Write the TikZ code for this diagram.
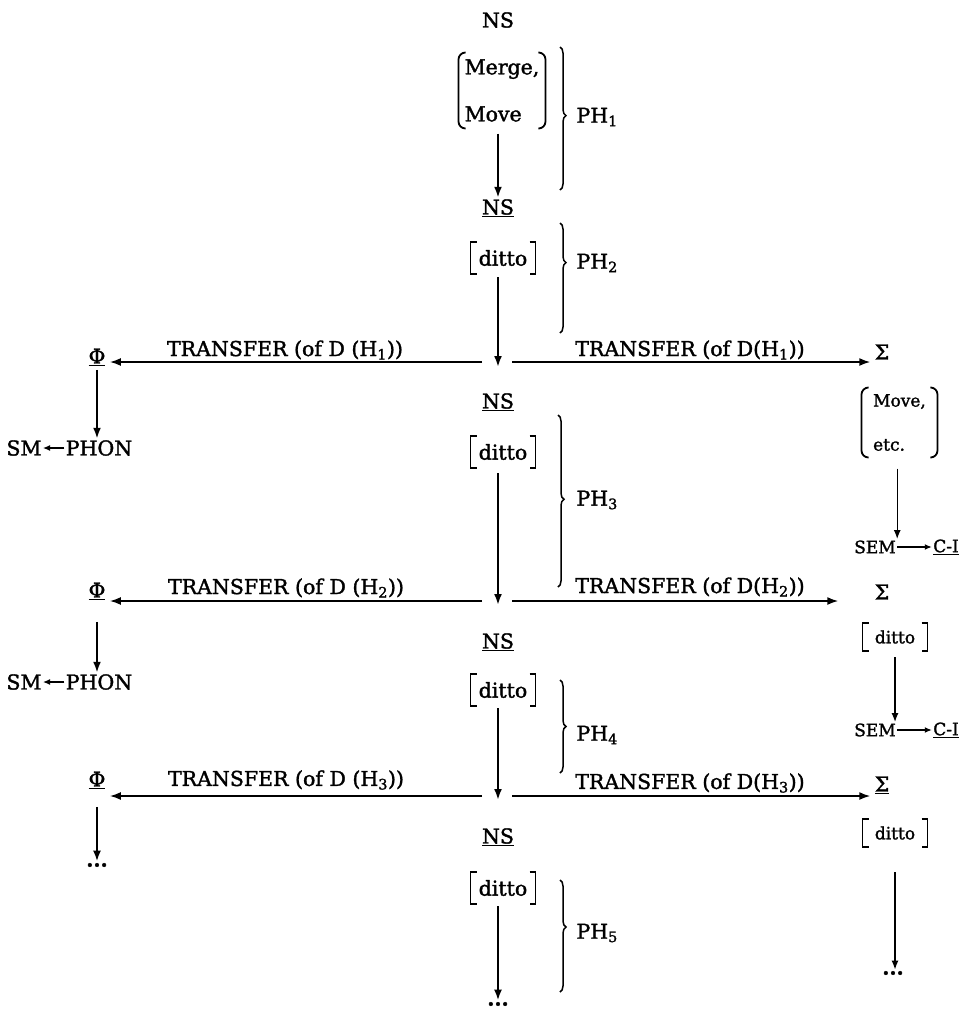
\documentclass[tikz,border=0pt]{standalone}
\usepackage{fontspec}
\setmainfont{DejaVu Serif}[FakeBold=1.6]
\usepackage{tikz}
\usetikzlibrary{arrows.meta,decorations.pathreplacing}
\tikzset{every picture/.style={line width=1pt}}
\tikzset{
  lab/.style={inner sep=1pt, font=\fontsize{20.5}{24}\selectfont},
  sml/.style={inner sep=1pt, font=\fontsize{17}{20}\selectfont},
  sym/.style={lab, inner sep=4pt},
  varr/.style={line width=2.2pt, -{Latex[length=11pt,width=8pt]}},
  harr/.style={line width=1.6pt, -{Latex[length=11pt,width=8pt]}},
  rarr/.style={line width=1.4pt, -{Latex[length=9pt,width=7pt]}},
  tarr/.style={line width=1.2pt, -{Latex[length=7pt,width=6pt]}},
  brc/.style={decorate, decoration={brace, amplitude=6pt, aspect=#1}, line width=1.5pt},
  brc/.default=0.5,
  brk/.style={line width=1.8pt},
}
% brackets round a node
\newcommand{\brackets}[2][sharp corners]{%
  \draw[brk, #1] ([xshift=6pt]#2.north west) -- (#2.north west) -- (#2.south west) -- ([xshift=6pt]#2.south west);
  \draw[brk, #1] ([xshift=-6pt]#2.north east) -- (#2.north east) -- (#2.south east) -- ([xshift=-6pt]#2.south east);}

\begin{document}
\begin{tikzpicture}[x=1pt,y=1pt,yscale=-1,xscale=1]
\useasboundingbox (0,0) rectangle (966,1013);

% junctions on the three TRANSFER rows
\coordinate (j1) at (498,367);
\coordinate (jl1) at (482,362);
\coordinate (jr1) at (512,362);
\coordinate (j2) at (498,605);
\coordinate (jl2) at (482,601);
\coordinate (jr2) at (512,601);
\coordinate (j3) at (498,800);
\coordinate (jl3) at (482,796);
\coordinate (jr3) at (512,796);

%% narrow syntax column
\node[lab] (ns0) at (498,20) {NS};
\node[lab, align=left, minimum width=86pt, minimum height=75pt] (mm) at (502,90.5) {Merge,\\[23pt]Move};
\brackets[rounded corners=7pt]{mm}
\node[lab] (ns1) at (498,208) {\underline{NS}};
\draw[varr, shorten <=5pt] (mm.south -| ns1) -- (ns1);
\node[lab, minimum width=64pt, minimum height=31pt] (d1) at (503,258) {ditto};
\brackets{d1}
\draw[varr, shorten <=3pt] (d1.south -| j1) -- (j1);

\node[lab] (ns2) at (498,402) {\underline{NS}};
\node[lab, minimum width=64pt, minimum height=31pt] (d2) at (503,452) {ditto};
\brackets{d2}
\draw[varr, shorten <=5pt] (d2.south -| j2) -- (j2);

\node[lab] (ns3) at (498,642) {\underline{NS}};
\node[lab, minimum width=64pt, minimum height=31pt] (d3) at (503,690) {ditto};
\brackets{d3}
\draw[varr, shorten <=2pt] (d3.south -| j3) -- (j3);

\node[lab] (ns4) at (498,837) {\underline{NS}};
\node[lab, minimum width=64pt, minimum height=31pt] (d4) at (503,888) {ditto};
\brackets{d4}
\node[lab] (dotsc) at (498,1004) {\textbf{...}};
\draw[varr, shorten <=2pt] (d4.south -| dotsc) -- (dotsc);

%% phases
\draw[brc=0.48] (560,47) -- (560,190);
\node[lab, anchor=west] (ph1) at (575,117) {PH\textsubscript{1}};
\draw[brc=0.36] (560,223) -- (560,333);
\node[lab, anchor=west] (ph2) at (575,263) {PH\textsubscript{2}};
\draw[brc=0.49] (558,415) -- (558,587);
\node[lab, anchor=west] (ph3) at (575,500) {PH\textsubscript{3}};
\draw[brc=0.5] (560,680) -- (560,773);
\node[lab, anchor=west] (ph4) at (575,735) {PH\textsubscript{4}};
\draw[brc=0.42] (560,880) -- (560,992);
\node[lab, anchor=west] (ph5) at (575,933) {PH\textsubscript{5}};

%% TRANSFER rows
\node[sym] (phi1) at (97,357) {\underline{Φ}};
\node[sym] (phi2) at (97,591) {\underline{Φ}};
\node[sym] (phi3) at (97,780) {\underline{Φ}};
\node[sym] (sig1) at (882,352) {Σ};
\node[sym] (sig2) at (882,592) {Σ};
\node[sym] (sig3) at (882,785) {\underline{Σ}};

\node[lab] (t1l) at (285,350) {TRANSFER (of D (H\textsubscript{1}))};
\node[lab] (t1r) at (690,350) {TRANSFER (of D(H\textsubscript{1}))};
\node[lab] (t2l) at (286,588) {TRANSFER (of D (H\textsubscript{2}))};
\node[lab] (t2r) at (690,587) {TRANSFER (of D(H\textsubscript{2}))};
\node[lab] (t3l) at (286,780) {TRANSFER (of D (H\textsubscript{3}))};
\node[lab] (t3r) at (690,783) {TRANSFER (of D(H\textsubscript{3}))};

\draw[harr] (jl1) -- (jl1 -| phi1.east);
\draw[harr] (jr1) -- (jr1 -| sig1.west);
\draw[harr] (jl2) -- (jl2 -| phi2.east);
\draw[harr, shorten >=32pt] (jr2) -- (jr2 -| sig2.west);
\draw[harr] (jl3) -- (jl3 -| phi3.east);
\draw[harr] (jr3) -- (jr3 -| sig3.west);

%% PHON side
\node[lab] (phon1) at (99,448) {PHON};
\node[lab] (sm1) at (24,448) {SM};
\draw[varr] (phi1) -- (phon1.north -| phi1);
\draw[tarr] (phon1) -- (sm1);
\node[lab] (phon2) at (99,682) {PHON};
\node[lab] (sm2) at (24,682) {SM};
\draw[varr, shorten <=18pt] (phi2) -- (phon2.north -| phi2);
\draw[tarr] (phon2) -- (sm2);
\node[lab] (dotsl) at (97,865) {\textbf{...}};
\draw[varr, shorten <=14pt] (phi3) -- (dotsl);

%% SEM side
\node[sml, align=left, minimum width=75pt, minimum height=69pt] (mv) at (899.5,422.5) {Move,\\[24pt]etc.};
\brackets[rounded corners=7pt]{mv}
\node[sml] (sem1) at (875,547) {SEM};
\node[sml] (ci1) at (946,547) {\underline{C-I}};
\draw[rarr, shorten <=11pt] (mv.south -| sem1.north east) -- (sem1.north east);
\draw[tarr] (sem1) -- (ci1);

\node[sml, minimum width=64pt, minimum height=27pt] (dr2) at (895,637) {ditto};
\brackets{dr2}
\node[sml] (sem2) at (875,730) {SEM};
\node[sml] (ci2) at (946,730) {\underline{C-I}};
\draw[rarr, shorten <=6pt] (dr2) -- (dr2 |- sem2.north);
\draw[tarr] (sem2) -- (ci2);

\node[sml, minimum width=64pt, minimum height=27pt] (dr3) at (895,833) {ditto};
\brackets{dr3}
\node[lab] (dotsr) at (893,973) {\textbf{...}};
\draw[rarr, shorten <=25pt] (dr3) -- (dr3 |- dotsr.north);

\end{tikzpicture}
\end{document}
